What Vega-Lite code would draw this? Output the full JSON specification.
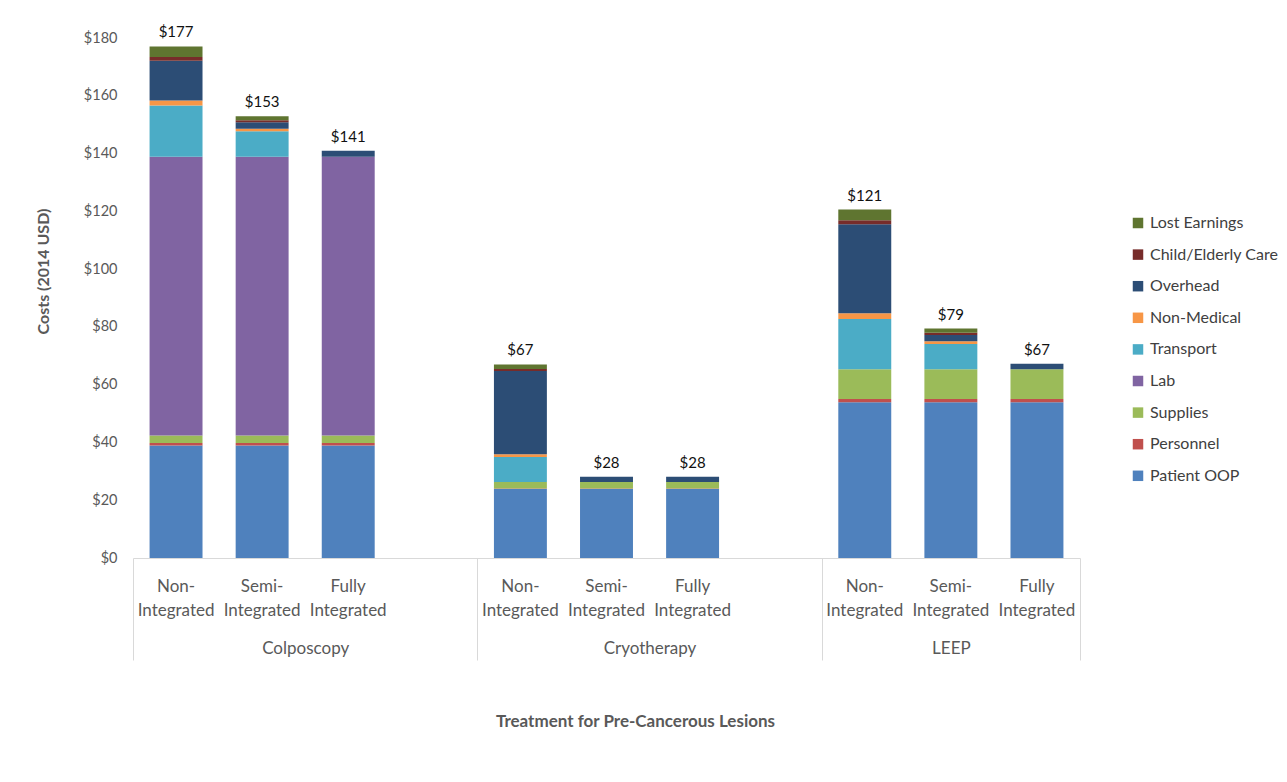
{
  "$schema": "https://vega.github.io/schema/vega-lite/v6.json",
  "width": 947,
  "height": 520,
  "autosize": {"type": "none"},
  "padding": {"left": 133, "top": 38, "right": 207, "bottom": 224},
  "background": "white",
  "config": {"view": {"stroke": null}, "font": "Lato", "axis": {"grid": false}},
  "datasets": {
    "costs": [
      {"slot": "Colposcopy Non-Integrated", "category": "Patient OOP", "cost": 38.9},
      {"slot": "Colposcopy Non-Integrated", "category": "Personnel", "cost": 0.9},
      {"slot": "Colposcopy Non-Integrated", "category": "Supplies", "cost": 2.6},
      {"slot": "Colposcopy Non-Integrated", "category": "Lab", "cost": 96.5},
      {"slot": "Colposcopy Non-Integrated", "category": "Transport", "cost": 17.7},
      {"slot": "Colposcopy Non-Integrated", "category": "Non-Medical", "cost": 1.8},
      {"slot": "Colposcopy Non-Integrated", "category": "Overhead", "cost": 13.7},
      {"slot": "Colposcopy Non-Integrated", "category": "Child/Elderly Care", "cost": 1.3},
      {"slot": "Colposcopy Non-Integrated", "category": "Lost Earnings", "cost": 3.7},
      {"slot": "Colposcopy Semi-Integrated", "category": "Patient OOP", "cost": 38.9},
      {"slot": "Colposcopy Semi-Integrated", "category": "Personnel", "cost": 0.9},
      {"slot": "Colposcopy Semi-Integrated", "category": "Supplies", "cost": 2.6},
      {"slot": "Colposcopy Semi-Integrated", "category": "Lab", "cost": 96.5},
      {"slot": "Colposcopy Semi-Integrated", "category": "Transport", "cost": 8.8},
      {"slot": "Colposcopy Semi-Integrated", "category": "Non-Medical", "cost": 0.9},
      {"slot": "Colposcopy Semi-Integrated", "category": "Overhead", "cost": 2.2},
      {"slot": "Colposcopy Semi-Integrated", "category": "Child/Elderly Care", "cost": 0.7},
      {"slot": "Colposcopy Semi-Integrated", "category": "Lost Earnings", "cost": 1.4},
      {"slot": "Colposcopy Fully Integrated", "category": "Patient OOP", "cost": 38.9},
      {"slot": "Colposcopy Fully Integrated", "category": "Personnel", "cost": 0.9},
      {"slot": "Colposcopy Fully Integrated", "category": "Supplies", "cost": 2.6},
      {"slot": "Colposcopy Fully Integrated", "category": "Lab", "cost": 96.5},
      {"slot": "Colposcopy Fully Integrated", "category": "Overhead", "cost": 2.1},
      {"slot": "Cryotherapy Non-Integrated", "category": "Patient OOP", "cost": 23.9},
      {"slot": "Cryotherapy Non-Integrated", "category": "Personnel", "cost": 0.2},
      {"slot": "Cryotherapy Non-Integrated", "category": "Supplies", "cost": 2.2},
      {"slot": "Cryotherapy Non-Integrated", "category": "Transport", "cost": 8.7},
      {"slot": "Cryotherapy Non-Integrated", "category": "Non-Medical", "cost": 0.9},
      {"slot": "Cryotherapy Non-Integrated", "category": "Overhead", "cost": 28.8},
      {"slot": "Cryotherapy Non-Integrated", "category": "Child/Elderly Care", "cost": 0.7},
      {"slot": "Cryotherapy Non-Integrated", "category": "Lost Earnings", "cost": 1.6},
      {"slot": "Cryotherapy Semi-Integrated", "category": "Patient OOP", "cost": 23.9},
      {"slot": "Cryotherapy Semi-Integrated", "category": "Personnel", "cost": 0.2},
      {"slot": "Cryotherapy Semi-Integrated", "category": "Supplies", "cost": 2.2},
      {"slot": "Cryotherapy Semi-Integrated", "category": "Overhead", "cost": 1.8},
      {"slot": "Cryotherapy Fully Integrated", "category": "Patient OOP", "cost": 23.9},
      {"slot": "Cryotherapy Fully Integrated", "category": "Personnel", "cost": 0.2},
      {"slot": "Cryotherapy Fully Integrated", "category": "Supplies", "cost": 2.2},
      {"slot": "Cryotherapy Fully Integrated", "category": "Overhead", "cost": 1.8},
      {"slot": "LEEP Non-Integrated", "category": "Patient OOP", "cost": 53.9},
      {"slot": "LEEP Non-Integrated", "category": "Personnel", "cost": 1.1},
      {"slot": "LEEP Non-Integrated", "category": "Supplies", "cost": 10.3},
      {"slot": "LEEP Non-Integrated", "category": "Transport", "cost": 17.4},
      {"slot": "LEEP Non-Integrated", "category": "Non-Medical", "cost": 2.0},
      {"slot": "LEEP Non-Integrated", "category": "Overhead", "cost": 30.8},
      {"slot": "LEEP Non-Integrated", "category": "Child/Elderly Care", "cost": 1.4},
      {"slot": "LEEP Non-Integrated", "category": "Lost Earnings", "cost": 3.7},
      {"slot": "LEEP Semi-Integrated", "category": "Patient OOP", "cost": 53.9},
      {"slot": "LEEP Semi-Integrated", "category": "Personnel", "cost": 1.1},
      {"slot": "LEEP Semi-Integrated", "category": "Supplies", "cost": 10.3},
      {"slot": "LEEP Semi-Integrated", "category": "Transport", "cost": 8.8},
      {"slot": "LEEP Semi-Integrated", "category": "Non-Medical", "cost": 0.9},
      {"slot": "LEEP Semi-Integrated", "category": "Overhead", "cost": 2.2},
      {"slot": "LEEP Semi-Integrated", "category": "Child/Elderly Care", "cost": 0.8},
      {"slot": "LEEP Semi-Integrated", "category": "Lost Earnings", "cost": 1.4},
      {"slot": "LEEP Fully Integrated", "category": "Patient OOP", "cost": 53.9},
      {"slot": "LEEP Fully Integrated", "category": "Personnel", "cost": 1.1},
      {"slot": "LEEP Fully Integrated", "category": "Supplies", "cost": 10.3},
      {"slot": "LEEP Fully Integrated", "category": "Overhead", "cost": 1.9}
    ]
  },
  "layer": [
    {
      "data": {"name": "costs"},
      "layer": [
        {
          "transform": [
            {"calculate": "indexof(['Patient OOP','Personnel','Supplies','Lab','Transport','Non-Medical','Overhead','Child/Elderly Care','Lost Earnings'], datum.category)", "as": "stackRank"}
          ],
          "mark": {"type": "bar"},
          "encoding": {
            "x": {
              "field": "slot",
              "type": "nominal",
              "scale": {
                "domain": ["Colposcopy Non-Integrated", "Colposcopy Semi-Integrated", "Colposcopy Fully Integrated", "gap1",
                           "Cryotherapy Non-Integrated", "Cryotherapy Semi-Integrated", "Cryotherapy Fully Integrated", "gap2",
                           "LEEP Non-Integrated", "LEEP Semi-Integrated", "LEEP Fully Integrated"],
                "paddingInner": 0.385,
                "paddingOuter": 0.1925
              },
              "axis": {
                "orient": "bottom",
                "title": null,
                "domain": true,
                "domainColor": "#d9d9d9",
                "domainWidth": 1,
                "ticks": false,
                "labelAngle": 0,
                "labelFontSize": 17,
                "labelColor": "#595959",
                "labelBaseline": "top",
                "labelPadding": 20,
                "labelLineHeight": 24,
                "labelOverlap": false,
                "labelExpr": "indexof(datum.value,'Non-')>=0 ? ['Non-','Integrated'] : indexof(datum.value,'Semi-')>=0 ? ['Semi-','Integrated'] : indexof(datum.value,'Fully')>=0 ? ['Fully','Integrated'] : ''"
              }
            },
            "y": {
              "field": "cost",
              "type": "quantitative",
              "stack": "zero",
              "scale": {"domain": [0, 180], "nice": false},
              "axis": {
                "title": "Costs (2014 USD)",
                "titleFontSize": 16,
                "titleFontWeight": "bold",
                "titleColor": "#595959",
                "titlePadding": 32,
                "titleY": 233,
                "values": [0, 20, 40, 60, 80, 100, 120, 140, 160, 180],
                "format": "$.0f",
                "domain": false,
                "ticks": false,
                "labelFontSize": 14.5,
                "labelColor": "#595959",
                "labelPadding": 16
              }
            },
            "order": {"field": "stackRank", "type": "quantitative", "sort": "ascending"},
            "color": {
              "field": "category",
              "type": "nominal",
              "scale": {
                "domain": ["Lost Earnings", "Child/Elderly Care", "Overhead", "Non-Medical", "Transport", "Lab", "Supplies", "Personnel", "Patient OOP"],
                "range": ["#5F7530", "#772C2A", "#2C4D75", "#F79646", "#4BACC6", "#8064A2", "#9BBB59", "#C0504D", "#4F81BD"]
              },
              "legend": {
                "title": null,
                "orient": "none",
                "legendX": 997,
                "legendY": 177,
                "padding": 0,
                "symbolType": "square",
                "symbolSize": 110,
                "symbolStrokeWidth": 0,
                "labelFontSize": 16,
                "labelColor": "#404040",
                "labelOffset": 4,
                "rowPadding": 15.6
              }
            }
          }
        },
        {
          "transform": [{"aggregate": [{"op": "sum", "field": "cost", "as": "total"}], "groupby": ["slot"]}],
          "mark": {"type": "text", "baseline": "alphabetic", "dy": -9, "fontSize": 15, "color": "#111111"},
          "encoding": {
            "x": {"field": "slot", "type": "nominal"},
            "y": {"field": "total", "type": "quantitative"},
            "text": {"field": "total", "type": "quantitative", "format": "$.0f"}
          }
        }
      ]
    },
    {
      "data": {"values": [{}]},
      "mark": {"type": "rule", "opacity": 0},
      "encoding": {
        "x": {
          "datum": 0,
          "type": "quantitative",
          "scale": {"domain": [0, 11], "nice": false, "zero": false},
          "axis": {
            "orient": "bottom",
            "values": [0, 2, 4, 6, 8, 9.5, 11],
            "domain": false,
            "grid": false,
            "ticks": true,
            "tickSize": 102,
            "tickColor": "#d9d9d9",
            "tickWidth": 1,
            "tickOpacity": {"condition": {"test": "datum.value == 2 || datum.value == 6 || datum.value == 9.5", "value": 0}, "value": 1},
            "labelExpr": "datum.value == 2 ? 'Colposcopy' : datum.value == 6 ? 'Cryotherapy' : datum.value == 9.5 ? 'LEEP' : ''",
            "labelFontSize": 17,
            "labelColor": "#595959",
            "labelBaseline": "middle",
            "labelPadding": -12,
            "labelFlush": false,
            "labelOverlap": false,
            "title": "Treatment for Pre-Cancerous Lesions",
            "titleFontSize": 17,
            "titleFontWeight": "bold",
            "titleColor": "#595959",
            "titleX": 502,
            "titleY": 163,
            "titleBaseline": "middle"
          }
        }
      }
    }
  ],
  "resolve": {"scale": {"x": "independent"}, "axis": {"x": "independent"}}
}
